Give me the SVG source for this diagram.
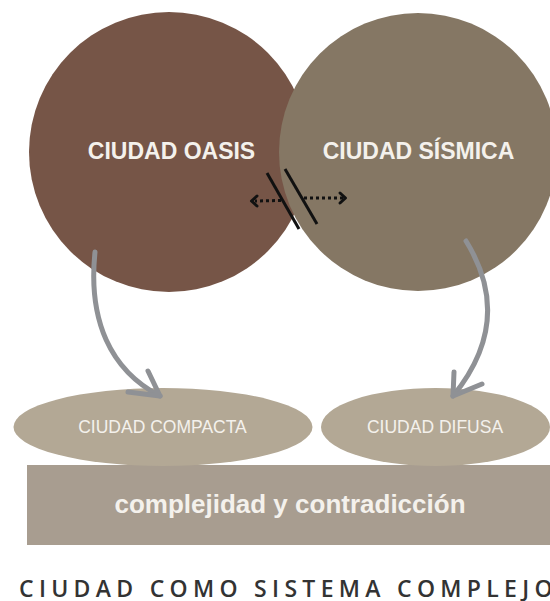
<svg xmlns="http://www.w3.org/2000/svg" width="550" height="601" viewBox="0 0 550 601">
<defs>
<style>
.lbl{font-family:"Liberation Sans",Arial,sans-serif;fill:#f4f1ec;text-anchor:middle}
.big{font-size:23px;font-weight:bold}
.sm{font-size:17.5px}
.gray{fill:none;stroke:#8f9195;stroke-width:5;stroke-linecap:round;stroke-linejoin:round}
.blk{fill:none;stroke:#111;stroke-width:3;stroke-linecap:butt}
.dot{fill:none;stroke:#111;stroke-width:3;stroke-dasharray:3 3}
.head{fill:none;stroke:#111;stroke-width:3;stroke-linecap:round;stroke-linejoin:round}
</style>
</defs>
<rect width="550" height="601" fill="#ffffff"/>
<g id="oasis">
<circle cx="169" cy="152" r="140" fill="#765547"/>
</g>
<g id="sismica">
<circle cx="418" cy="152" r="139" fill="#857764"/>
</g>
<text class="lbl big" x="171.5" y="159">CIUDAD OASIS</text>
<text class="lbl big" x="418.5" y="159">CIUDAD SÍSMICA</text>
<g id="base">
<rect x="27" y="465" width="530" height="80" fill="#a89d90"/>
</g>
<g id="compacta">
<ellipse cx="163" cy="427" rx="149.5" ry="39" fill="#b3a895"/>
<text class="lbl sm" x="162.5" y="433">CIUDAD COMPACTA</text>
</g>
<g id="difusa">
<ellipse cx="435.5" cy="427" rx="114.5" ry="39" fill="#b3a895"/>
<text class="lbl sm" x="435" y="433">CIUDAD DIFUSA</text>
</g>
<text class="lbl" x="290" y="513" style="font-size:26px;font-weight:bold">complejidad y contradicción</text>
<g id="connectors">
<path class="gray" d="M95,252 C88,320 110,370 160,396"/>
<path class="gray" d="M148,371 L160,396 L128,392"/>
<path class="gray" d="M466,241 Q515,320 453,396"/>
<path class="gray" d="M454,372 L453,396 L482,384"/>
<line class="blk" x1="267" y1="173" x2="299" y2="229"/>
<line class="blk" x1="285" y1="169" x2="317" y2="224"/>
<line class="dot" x1="281" y1="200.5" x2="255" y2="201"/>
<path class="head" d="M257,196 L251.5,201 L257,206"/>
<line class="dot" x1="304" y1="198" x2="343" y2="198"/>
<path class="head" d="M340,193 L345.5,198 L340,203"/>
</g>
<text x="19" y="597" style="font-family:'Open Sans','Liberation Sans',Arial,sans-serif;font-size:23px;font-weight:600;letter-spacing:5.3px;fill:#333333">CIUDAD COMO SISTEMA COMPLEJO</text>
</svg>
